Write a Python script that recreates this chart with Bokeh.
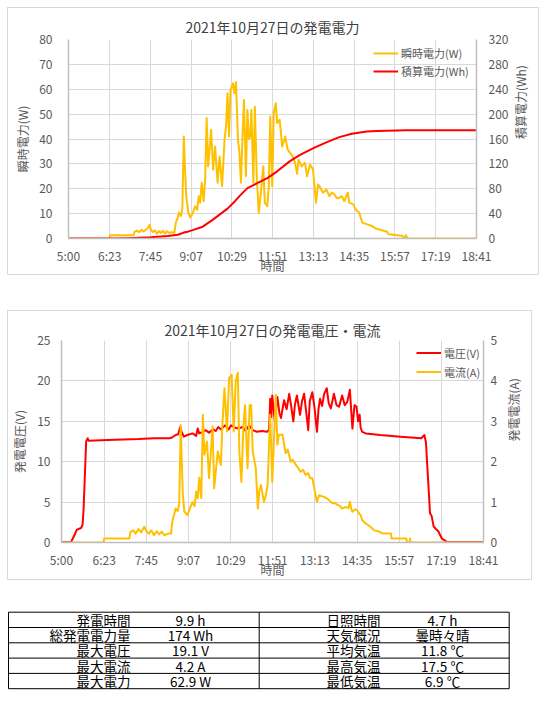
import math
from bokeh.plotting import figure
from bokeh.models import Range1d, LinearAxis, FixedTicker, Legend, LegendItem, Spacer
from bokeh.layouts import column, row
from bokeh.embed import file_html
from bokeh.resources import INLINE
from bokeh.core.properties import value

FONT = "Noto Sans CJK JP"
GREY = "#595959"
TITLE_C = "#404040"
GRID = "#d9d9d9"
AXIS = "#bfbfbf"
YELLOW = "#FFC000"
RED = "#FF0000"

# ---------------- data ----------------
x_tick_labels = ["5:00", "6:23", "7:45", "9:07", "10:29", "11:51", "13:13", "14:35", "15:57", "17:19", "18:41"]

power_time = ["5:00", "6:23", "6:24", "7:11", "7:13", "7:18", "7:22", "7:27", "7:31", "7:36", "7:40", "7:43",
              "7:46", "7:50", "7:54", "7:58", "8:02", "8:06", "8:10", "8:14", "8:18", "8:23", "8:28", "8:33",
              "8:36", "8:40", "8:42", "8:46", "8:49", "8:52", "8:54", "8:57", "9:01", "9:05", "9:10", "9:15",
              "9:19", "9:22", "9:25", "9:28", "9:32", "9:35", "9:38", "9:41", "9:44", "9:47", "9:51", "9:55",
              "10:00", "10:04", "10:09", "10:14", "10:17", "10:20", "10:23", "10:26", "10:31", "10:34", "10:37",
              "10:41", "10:44", "10:47", "10:50", "10:53", "10:57", "11:00", "11:03", "11:06", "11:08", "11:12",
              "11:15", "11:19", "11:23", "11:27", "11:32", "11:35", "11:40", "11:43", "11:46", "11:50", "11:53",
              "11:57", "12:00", "12:05", "12:10", "12:16", "12:21", "12:26", "12:31", "12:36", "12:40", "12:43",
              "12:49", "12:56", "13:00", "13:06", "13:12", "13:18", "13:22", "13:25", "13:32", "13:39", "13:45",
              "13:50", "13:55", "14:00", "14:05", "14:10", "14:15", "14:22", "14:25", "14:33", "14:38", "14:45",
              "14:51", "15:01", "15:11", "15:18", "15:41", "15:44", "16:11", "16:16", "16:19", "16:22", "18:41"]
power_w = [0, 0, 1.3, 1.3, 2.7, 3.2, 2.5, 3.5, 2.8, 3.6, 4.2, 5.5,
           3.4, 2.6, 3.3, 1.9, 3.0, 2.2, 3.1, 2.0, 2.9, 2.3, 2.5, 2.3,
           6.4, 8.5, 10.5, 9.0, 11.7, 41.0, 30.0, 17.0, 10.5, 8.4, 10.2, 13.0,
           11.5, 17.0, 14.4, 22.4, 15.0, 24.0, 48.4, 29.0, 36.0, 43.7, 27.7, 37.0,
           22.4, 33.0, 21.0, 39.7, 45.0, 58.4, 41.0, 59.7, 62.4, 58.4, 62.9,
           39.7, 34.4, 22.4, 40.0, 55.7, 25.0, 51.7, 40.0, 41.0, 51.7, 22.4,
           53.0, 23.7, 10.4, 18.4, 29.0, 14.4, 13.0, 21.0, 49.0, 21.0, 50.4,
           54.4, 46.4, 47.7, 37.0, 41.0, 35.7, 34.4, 33.0, 30.4, 26.0, 31.7,
           29.0, 30.4, 25.0, 29.7, 27.7, 14.4, 21.7, 21.0, 18.4, 19.7, 17.0,
           18.5, 17.7, 16.2, 16.4, 17.0, 15.0, 18.4, 14.4, 13.7, 11.7, 10.4,
           6.4, 5.7, 5.0, 4.0, 2.7, 1.7, 1.1, 0, 1.3, 0, 0]

energy_time = ["5:00", "6:23", "7:00", "7:45", "8:20", "8:40", "8:52", "9:00", "9:10", "9:30", "9:50", "10:00",
               "10:20", "10:35", "10:45", "11:00", "11:20", "11:40", "12:00", "12:25", "12:45", "13:15",
               "13:40", "14:05", "14:30", "15:00", "15:20", "16:20", "18:41"]
energy_wh = [0, 0, 0.6, 2.0, 4.0, 6.0, 9.5, 11.0, 13.5, 19.0, 30.0, 36.0,
             48.0, 60.0, 69.0, 81.0, 89.0, 97.0, 108.0, 124.0, 134.0, 146.0,
             155.0, 163.0, 168.5, 172.0, 173.0, 174.0, 174.0]

volt_time = ["5:00", "5:19", "5:25", "5:30", "5:38", "5:41", "5:43", "5:46", "5:48", "5:51", "5:53", "6:30",
             "7:30", "8:00", "8:30", "8:35", "8:42", "8:47", "8:51", "8:53", "8:58", "9:05", "9:15", "9:22",
             "9:25", "9:28", "9:35", "9:40", "9:47", "9:55", "10:00", "10:05", "10:10", "10:18", "10:25",
             "10:30", "10:38", "10:45", "10:52", "10:58", "11:05", "11:12", "11:20", "11:30", "11:40", "11:44",
             "11:46", "11:48", "11:50", "11:55", "12:00", "12:04", "12:07", "12:13", "12:18", "12:23", "12:27",
             "12:31", "12:34", "12:38", "12:44", "12:48", "12:52", "12:56", "13:00", "13:03", "13:08", "13:12",
             "13:17", "13:20", "13:23", "13:27", "13:31", "13:36", "13:40", "13:44", "13:50", "13:55", "14:00",
             "14:03", "14:06", "14:11", "14:16", "14:21", "14:26", "14:30", "14:34", "14:37", "14:40", "14:42",
             "14:45", "14:52", "15:20", "16:00", "16:40", "16:46", "16:49", "16:53", "16:57", "17:00", "17:04",
             "17:08", "17:13", "17:20", "17:29", "18:41"]
volt_v = [0.05, 0.1, 0.9, 1.6, 1.8, 2.2, 4.2, 9.2, 12.5, 12.9, 12.6, 12.7,
          12.8, 12.9, 12.9, 13.0, 13.3, 13.4, 14.3, 13.8, 13.1, 13.3, 13.5, 13.2,
          14.1, 13.5, 13.7, 13.9, 13.6, 14.0, 13.8, 14.3, 14.0, 14.5, 14.0,
          14.5, 14.2, 14.1, 14.3, 13.8, 14.5, 13.9, 13.7, 13.8, 13.7, 14.0,
          17.8, 15.5, 18.2, 15.0, 18.0, 16.0, 15.4, 17.6, 16.5, 18.4, 16.8,
          15.0, 17.0, 18.2, 15.8, 17.5, 18.4, 16.2, 13.9, 17.5, 18.6, 16.8,
          13.7, 16.5, 17.8, 16.9, 18.4, 19.1, 17.2, 16.6, 18.4, 17.0, 16.8,
          17.5, 18.2, 17.0, 17.4, 18.9, 14.1, 17.0, 16.8, 15.0, 15.8, 14.2,
          13.7, 13.5, 13.3, 13.1, 12.9, 13.3, 12.4, 8.0, 3.6, 3.3, 2.0,
          1.7, 1.4, 0.5, 0.1, 0.05]

curr_time = ["5:00", "6:22", "6:23", "7:12", "7:14", "7:20", "7:24", "7:30", "7:35", "7:41", "7:45", "7:50",
             "7:55", "8:00", "8:05", "8:10", "8:15", "8:20", "8:28", "8:33", "8:36", "8:39", "8:42", "8:46",
             "8:49", "8:52", "8:54", "8:56", "8:59", "9:05", "9:10", "9:15", "9:19", "9:22", "9:25", "9:28",
             "9:32", "9:35", "9:38", "9:43", "9:47", "9:54", "9:57", "10:04", "10:10", "10:13", "10:17",
             "10:22", "10:26", "10:31", "10:35", "10:39", "10:43", "10:46", "10:50", "10:54", "10:57", "11:02",
             "11:06", "11:09", "11:12", "11:18", "11:22", "11:25", "11:28", "11:34", "11:38", "11:41", "11:46",
             "11:48", "11:50", "11:54", "11:57", "12:00", "12:03", "12:10", "12:16", "12:20", "12:26", "12:30",
             "12:36", "12:40", "12:45", "12:50", "12:55", "13:00", "13:04", "13:08", "13:11", "13:13", "13:17",
             "13:21", "13:25", "13:31", "13:35", "13:40", "13:47", "13:52", "13:57", "14:02", "14:06", "14:13",
             "14:18", "14:21", "14:24", "14:26", "14:31", "14:35", "14:40", "14:42", "14:45", "14:52", "15:01",
             "15:08", "15:18", "15:25", "15:41", "15:42", "16:11", "16:12", "16:17", "16:18", "16:19", "18:41"]
curr_a = [0, 0, 0.1, 0.1, 0.26, 0.3, 0.22, 0.33, 0.25, 0.39, 0.28, 0.22,
          0.3, 0.18, 0.28, 0.2, 0.27, 0.18, 0.22, 0.22, 0.55, 0.68, 0.84, 0.78,
          0.95, 2.91, 2.0, 1.2, 0.76, 0.68, 0.85, 1.0, 0.9, 1.26, 1.09, 1.6,
          1.1, 3.16, 2.17, 2.5, 1.59, 2.87, 1.34, 2.25, 1.92, 2.9, 3.82,
          2.75, 4.07, 4.15, 2.75, 4.0, 4.2, 2.25, 1.5, 2.9, 3.4, 1.84,
          3.4, 3.4, 2.25, 1.84, 0.84, 1.3, 1.42, 1.0, 1.2, 1.42, 3.16,
          2.4, 1.5, 2.75, 3.66, 2.42, 2.67, 2.67, 2.21, 2.3, 2.0, 2.05,
          1.92, 1.85, 1.75, 1.8, 1.67, 1.72, 1.59, 1.59, 1.4, 1.26, 1.01,
          1.17, 1.15, 1.13, 1.1, 1.05, 0.97, 0.98, 0.93, 0.9, 0.84, 0.88,
          0.85, 1.01, 0.82, 0.76, 0.82, 0.8, 0.7, 0.68, 0.55, 0.47, 0.39,
          0.3, 0.27, 0.22, 0.22, 0.1, 0.1, 0, 0, 0.1, 0, 0]

p1_left_ticks = [0, 10, 20, 30, 40, 50, 60, 70, 80]
p1_right_ticks = [0, 40, 80, 120, 160, 200, 240, 280, 320]
p2_left_ticks = [0, 5, 10, 15, 20, 25]
p2_right_ticks = [0, 1, 2, 3, 4, 5]

table_left_labels = ["発電時間", "総発電電力量", "最大電圧", "最大電流", "最大電力"]
table_left_values = ["9.9 h", "174 Wh", "19.1 V", "4.2 A", "62.9 W"]
table_right_labels = ["日照時間", "天気概況", "平均気温", "最高気温", "最低気温"]
table_right_values = ["4.7 h", "曇時々晴", "11.8 ℃", "17.5 ℃", "6.9 ℃"]


def minutes(ts):
    out = []
    for s in ts:
        h, m = s.split(":")
        out.append(int(h) * 60 + int(m))
    return out


x_ticks = minutes(x_tick_labels)
x_overrides = {t: lab for t, lab in zip(x_ticks, x_tick_labels)}


def style_text(ax):
    ax.major_label_text_font = FONT
    ax.major_label_text_font_size = "12px"
    ax.major_label_text_color = GREY
    ax.axis_label_text_font = FONT
    ax.axis_label_text_font_size = "12px"
    ax.axis_label_text_font_style = "normal"
    ax.axis_label_text_color = GREY
    ax.axis_line_color = AXIS
    ax.axis_line_width = 1.5
    ax.major_tick_line_color = None
    ax.minor_tick_line_color = None
    ax.major_tick_out = 6
    ax.minor_tick_out = 0
    ax.major_tick_in = 0
    ax.minor_tick_in = 0


def style_chart(p, left_ticks, right_ticks, right_name, left_title, right_title,
                left_std, left_title_std, right_std, right_title_std, title_std):
    p.title.align = "center"
    p.title.text_font = FONT
    p.title.text_font_size = "14px"
    p.title.text_font_style = "normal"
    p.title.text_color = TITLE_C
    p.title.standoff = title_std
    p.background_fill_color = "white"
    p.border_fill_color = "white"
    p.outline_line_color = None

    xa = p.xaxis[0]
    style_text(xa)
    xa.ticker = FixedTicker(ticks=x_ticks)
    xa.major_label_overrides = x_overrides
    xa.axis_label = "時間"
    xa.major_label_standoff = 2
    xa.axis_label_standoff = -10

    ya = p.yaxis[0]
    style_text(ya)
    ya.ticker = FixedTicker(ticks=left_ticks)
    ya.axis_label = left_title
    ya.major_label_standoff = left_std
    ya.axis_label_standoff = left_title_std

    ra = LinearAxis(y_range_name=right_name, ticker=FixedTicker(ticks=right_ticks))
    style_text(ra)
    ra.axis_label = right_title
    ra.major_label_standoff = right_std
    ra.axis_label_standoff = right_title_std
    try:
        ra.axis_label_orientation = math.pi / 2
    except Exception:
        pass
    p.add_layout(ra, "right")

    p.xgrid.ticker = FixedTicker(ticks=x_ticks)
    p.ygrid.ticker = FixedTicker(ticks=left_ticks)
    p.xgrid.grid_line_color = GRID
    p.ygrid.grid_line_color = GRID


BOX = {"border": "1px solid #d9d9d9"}

# ---------------- chart 1 ----------------
W1, H1 = 532, 268
p1 = figure(width=W1, height=H1, output_backend="svg", toolbar_location=None,
            title="2021年10月27日の発電電力",
            x_range=Range1d(x_ticks[0], x_ticks[-1]), y_range=Range1d(0, 80),
            min_border_left=60, min_border_right=57, min_border_top=31, min_border_bottom=37)
p1.frame_align = False
p1.styles = BOX
p1.extra_y_ranges = {"wh": Range1d(0, 320)}
style_chart(p1, p1_left_ticks, p1_right_ticks, "wh", "瞬時電力(W)", "積算電力(Wh)", 10, 5, 6, 9, 6)

r_pw = p1.line(minutes(power_time), power_w, line_color=YELLOW, line_width=2, line_join="round")
r_en = p1.line(minutes(energy_time), energy_wh, y_range_name="wh", line_color=RED, line_width=2,
               line_join="round")
leg1 = Legend(items=[LegendItem(label="瞬時電力(W)", renderers=[r_pw]),
                     LegendItem(label="積算電力(Wh)", renderers=[r_en])],
              location=(305, 158), padding=0, spacing=0, margin=0,
              glyph_width=25, glyph_height=18, label_height=18, label_standoff=3,
              label_text_font=FONT, label_text_font_size="11px", label_text_color=GREY,
              border_line_alpha=0, background_fill_alpha=0)
p1.add_layout(leg1)

# ---------------- chart 2 ----------------
W2, H2 = 525, 270
p2 = figure(width=W2, height=H2, output_backend="svg", toolbar_location=None,
            title="2021年10月27日の発電電圧・電流",
            x_range=Range1d(x_ticks[0], x_ticks[-1]), y_range=Range1d(0, 25),
            min_border_left=52, min_border_right=50, min_border_top=29, min_border_bottom=39)
p2.frame_align = False
p2.styles = BOX
p2.extra_y_ranges = {"amp": Range1d(0, 5)}
style_chart(p2, p2_left_ticks, p2_right_ticks, "amp", "発電電圧(V)", "発電電流(A)", 5, 6, 1, 13, 1)

r_v = p2.line(minutes(volt_time), volt_v, line_color=RED, line_width=2, line_join="round")
r_a = p2.line(minutes(curr_time), curr_a, y_range_name="amp", line_color=YELLOW, line_width=2,
              line_join="round")
leg2 = Legend(items=[LegendItem(label="電圧(V)", renderers=[r_v]),
                     LegendItem(label="電流(A)", renderers=[r_a])],
              location=(355, 161), padding=0, spacing=0, margin=0,
              glyph_width=25, glyph_height=19, label_height=19, label_standoff=3,
              label_text_font=FONT, label_text_font_size="11px", label_text_color=GREY,
              border_line_alpha=0, background_fill_alpha=0)
p2.add_layout(leg2)

# ---------------- table ----------------
TX0, TY0, TW, TH = 7, 600, 512, 100
pt = figure(width=TW, height=TH, output_backend="svg", toolbar_location=None,
            x_range=Range1d(TX0, TX0 + TW), y_range=Range1d(TY0 + TH, TY0),
            min_border=0, x_axis_location=None, y_axis_location=None)
pt.frame_align = False
pt.grid.visible = False
pt.outline_line_color = None
pt.background_fill_color = "white"
pt.border_fill_color = "white"

n_rows = len(table_left_labels)
t_top, row_h = 615.7, 15.3
t_left, t_mid, t_right = 8.0, 258.7, 508.7
h_y = [t_top + i * row_h for i in range(n_rows + 1)]
pt.segment(x0=[t_left] * len(h_y), x1=[t_right] * len(h_y), y0=h_y, y1=h_y, line_color="black", line_width=1)
pt.segment(x0=[t_left, t_mid, t_right], x1=[t_left, t_mid, t_right],
           y0=[h_y[0]] * 3, y1=[h_y[-1]] * 3, line_color="black", line_width=1)
row_c = [t_top + (i + 0.5) * row_h for i in range(n_rows)]
common = dict(text_baseline="middle", text_font=value(FONT), text_font_size="13.5px", text_color="black")
pt.text(x=[130] * n_rows, y=row_c, text=table_left_labels, text_align="right", **common)
pt.text(x=[190] * n_rows, y=row_c, text=table_left_values, text_align="center", **common)
pt.text(x=[380] * n_rows, y=row_c, text=table_right_labels, text_align="right", **common)
pt.text(x=[442] * n_rows, y=row_c, text=table_right_values, text_align="center", **common)

layout = row(Spacer(width=7),
             column(Spacer(height=7), p1, Spacer(height=35), p2, Spacer(height=16), pt, spacing=0),
             spacing=0)
open("out.html", "w").write(file_html(layout, INLINE))
